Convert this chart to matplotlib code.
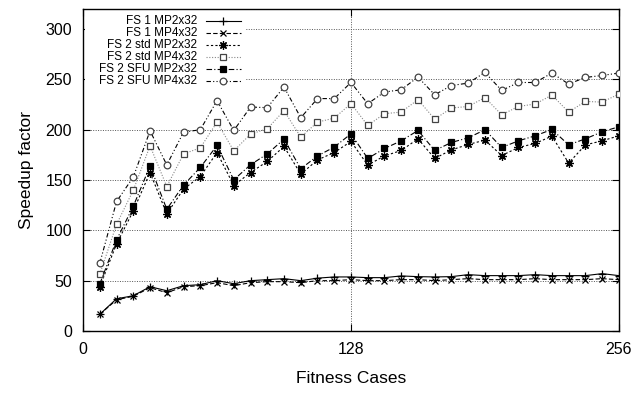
"""Speedup factor vs fitness cases, gnuplot-style monochrome line chart."""

import matplotlib
matplotlib.use("Agg")
import matplotlib.pyplot as plt
from matplotlib.lines import Line2D
from matplotlib.patches import Rectangle
import numpy as np

plt.rcParams['font.family'] = ['Liberation Sans', 'DejaVu Sans']

# fitness cases: 8, 16, ..., 256
cases = list(range(8, 257, 8))

fs1_mp2 = [16.6, 32, 35, 44, 40, 45, 46, 50, 47, 50, 51, 52, 50, 52.5, 53.7, 53.7,
           53, 53, 54.7, 54, 53.7, 54, 56, 55, 55, 55, 56, 55, 55, 55, 57, 55]
fs1_mp4 = [16.6, 31, 34.5, 43, 38, 44, 45, 48, 45, 48, 49, 49, 48, 50, 50, 51,
           50, 50, 51, 51, 50, 51, 52, 51, 51, 51, 52, 51, 51, 51, 52, 51]
fs2_std_mp2 = [44, 86.6, 119.4, 157.5, 116.4, 141, 153.5, 177.4, 144.6, 157.5, 168.5, 183.4,
               155.9, 170, 177.4, 188.4, 164.9, 174, 179.4, 191, 171.5, 180, 185.4, 189.7,
               174.4, 182.4, 186.4, 193.7, 166.9, 185, 189, 194]
fs2_std_mp4 = [56.4, 106, 140, 184, 143.6, 176, 182, 207.6, 179, 195.7, 201, 219,
               192.7, 207.6, 211.6, 226, 204.3, 216, 217.6, 229.9, 210.6, 221.6, 223.2, 232,
               214.9, 223.2, 225.6, 234.5, 217.6, 228.2, 227.5, 235.5]
fs2_sfu_mp2 = [46.8, 90.5, 124, 164, 121, 145, 162.5, 184.4, 150.2, 165.2, 176, 190.7,
               161.2, 174, 182.8, 196, 171.5, 181.4, 189, 199.3, 179.4, 187.4, 192, 200,
               182.4, 189, 194, 200.3, 185, 191, 198, 203]
fs2_sfu_mp4 = [67.4, 128.7, 153, 199, 165, 197.7, 200, 229, 199.3, 222.6, 222, 242.5,
               212, 231, 231, 247, 225.9, 237.5, 239.8, 252.4, 234.8, 244, 246.4, 257,
               239.1, 247, 247, 256.4, 245.5, 252, 254, 256.4]

labels = ["FS 1 MP2x32", "FS 1 MP4x32", "FS 2 std MP2x32",
          "FS 2 std MP4x32", "FS 2 SFU MP2x32", "FS 2 SFU MP4x32"]
series = [fs1_mp2, fs1_mp4, fs2_std_mp2, fs2_std_mp4, fs2_sfu_mp2, fs2_sfu_mp4]

# style per series: linestyle, line colour, marker, marker face, marker edge, size
styles = [
    dict(ls='-', color='black', marker='+', mfc='none', mec='black', ms=6),
    dict(ls=(0, (4, 2)), color='black', marker='x', mfc='none', mec='black', ms=4.5),
    dict(ls=(0, (2, 2)), color='black', marker=(8, 2, 0), mfc='none', mec='black', ms=6),
    dict(ls=(0, (1, 1.5)), color='#888888', marker='s', mfc='white', mec='#444444', ms=4.6),
    dict(ls=(0, (5, 2, 1, 2)), color='black', marker='s', mfc='black', mec='black', ms=4.8),
    dict(ls=(0, (4, 2, 1, 2, 1, 2)), color='black', marker='o', mfc='white', mec='#444444', ms=4.8),
]

fig = plt.figure(figsize=(6.44, 3.94), dpi=100)
ax = fig.add_axes([0.129, 0.160, 0.832, 0.817])

for vals, st in zip(series, styles):
    ax.plot(cases, vals, lw=0.8, markeredgewidth=0.9, zorder=3,
            linestyle=st['ls'], color=st['color'], marker=st['marker'],
            markerfacecolor=st['mfc'], markeredgecolor=st['mec'], markersize=st['ms'])

ax.set_xlim(0, 256)
ax.set_ylim(0, 320)
ax.set_xticks([0, 128, 256])
ax.set_yticks(np.arange(0, 301, 50))
ax.tick_params(direction='in', top=True, right=True, length=5, width=0.8,
               labelsize=11.5, pad=8)
for sp in ax.spines.values():
    sp.set_linewidth(1.0)

# dotted grid, skipping the borders
for yv in range(50, 301, 50):
    ax.axhline(yv, color='#555555', lw=0.7, ls=(0, (1, 1.5)), zorder=1)
ax.axvline(128, color='#555555', lw=0.7, ls=(0, (1, 1.5)), zorder=1)

ax.set_xlabel("Fitness Cases", fontsize=12.5, labelpad=10)
ax.set_ylabel("Speedup factor", fontsize=12.5, labelpad=8)

# gnuplot-like key: right aligned text, sample to its right, white backing
ax.add_patch(Rectangle((0.003, 0.745), 0.30, 0.25, transform=ax.transAxes,
                       facecolor='white', edgecolor='none', zorder=2))
y0 = 0.962
dy = 0.0374
for k, (lab, st) in enumerate(zip(labels, styles)):
    yk = y0 - k * dy
    ax.text(0.213, yk, lab, transform=ax.transAxes, ha='right', va='center',
            fontsize=8.5, zorder=4)
    ax.add_line(Line2D([0.229, 0.294], [yk, yk], transform=ax.transAxes, lw=0.8,
                       linestyle=st['ls'], color=st['color'], zorder=4))
    ax.add_line(Line2D([0.2615], [yk], transform=ax.transAxes, marker=st['marker'],
                       markerfacecolor=st['mfc'], markeredgecolor=st['mec'],
                       markersize=st['ms'], markeredgewidth=0.9, zorder=4))

fig.savefig("out.png", dpi=100)
